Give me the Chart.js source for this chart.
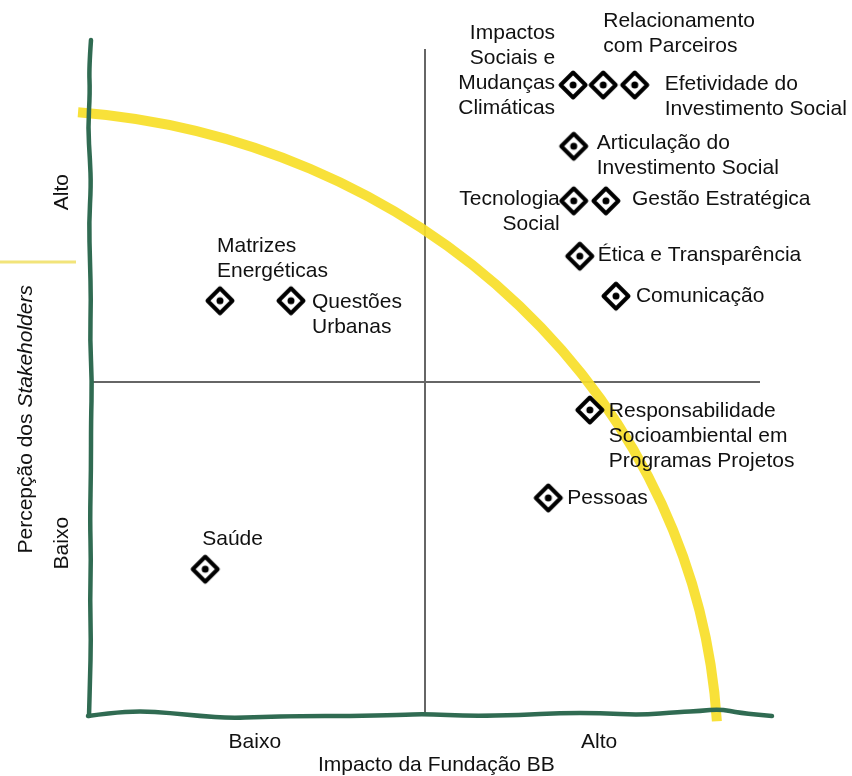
<!DOCTYPE html>
<html>
<head>
<meta charset="utf-8">
<script src="https://cdn.jsdelivr.net/npm/chart.js@4.4.1/dist/chart.umd.min.js"></script>
<style>
  body { margin: 0; background: #fff; }
  canvas { display: block; }
</style>
</head>
<body>
<canvas id="matrix" width="852" height="776"></canvas>
<script>
// temas da matriz de materialidade
const topics = [
  ['Impactos', 'Sociais e', 'Mudanças', 'Climáticas'],
  ['Relacionamento', 'com Parceiros'],
  ['Efetividade do', 'Investimento Social'],
  ['Articulação do', 'Investimento Social'],
  ['Tecnologia', 'Social'],
  ['Gestão Estratégica'],
  ['Ética e Transparência'],
  ['Comunicação'],
  ['Matrizes', 'Energéticas'],
  ['Questões', 'Urbanas'],
  ['Responsabilidade', 'Socioambiental em', 'Programas Projetos'],
  ['Pessoas'],
  ['Saúde']
];
// impacto da Fundação BB (eixo x, 0-10)
const impacto = [7.21, 7.66, 8.13, 7.22, 7.22, 7.70, 7.31, 7.85, 1.94, 3.00, 7.46, 6.84, 1.72];
// percepção dos stakeholders (eixo y, 0-10)
const percepcao = [9.46, 9.46, 9.46, 8.54, 7.72, 7.72, 6.89, 6.29, 6.22, 6.22, 4.58, 3.26, 2.19];

const xTicks = ['Baixo', 'Alto'];
const yTicks = ['Baixo', 'Alto'];
const xTitle = 'Impacto da Fundação BB';
const yTitle = ['Percepção dos ', 'Stakeholders'];

// where each label sits relative to its marker
const labelPlace = [
  { align: 'right', dx: -18, dy: -52 },
  { align: 'left', dx: 0, dy: -64 },
  { align: 'left', dx: 30, dy: -1 },
  { align: 'left', dx: 23, dy: -3 },
  { align: 'right', dx: -14, dy: -2 },
  { align: 'left', dx: 26, dy: -2 },
  { align: 'left', dx: 18, dy: -1 },
  { align: 'left', dx: 20, dy: 0 },
  { align: 'left', dx: -3, dy: -55 },
  { align: 'left', dx: 21, dy: 1 },
  { align: 'left', dx: 19, dy: 1 },
  { align: 'left', dx: 19, dy: 0 },
  { align: 'left', dx: -3, dy: -30 }
];

const FONT = '"Liberation Sans", Arial, Helvetica, sans-serif';
const SIZE = 21;
const GREEN = '#306b52';
const YELLOW = 'rgba(247, 222, 40, 0.92)';

// diamond marker with rounded corners and a dot
function makeMarker() {
  const c = document.createElement('canvas');
  c.width = 34; c.height = 34;
  const g = c.getContext('2d');
  const h = 12.5;
  g.beginPath();
  g.moveTo(17, 17 - h); g.lineTo(17 + h, 17); g.lineTo(17, 17 + h); g.lineTo(17 - h, 17);
  g.closePath();
  g.fillStyle = '#fff';
  g.fill();
  g.lineJoin = 'round';
  g.lineWidth = 4;
  g.strokeStyle = '#000';
  g.stroke();
  g.beginPath();
  g.arc(17, 17, 3.5, 0, Math.PI * 2);
  g.fillStyle = '#000';
  g.fill();
  return c;
}

function wobble(ctx, pts) {
  ctx.beginPath();
  ctx.moveTo(pts[0][0], pts[0][1]);
  for (let i = 1; i < pts.length - 1; i++) {
    const mx = (pts[i][0] + pts[i + 1][0]) / 2, my = (pts[i][1] + pts[i + 1][1]) / 2;
    ctx.quadraticCurveTo(pts[i][0], pts[i][1], mx, my);
  }
  const last = pts[pts.length - 1];
  ctx.lineTo(last[0], last[1]);
  ctx.stroke();
}

const backdrop = {
  id: 'backdrop',
  beforeDatasetsDraw(chart) {
    const { ctx, chartArea: a, scales: { x, y } } = chart;
    ctx.save();
    // quadrant dividers
    ctx.strokeStyle = '#666';
    ctx.lineWidth = 2;
    ctx.beginPath();
    ctx.moveTo(x.getPixelForValue(5), y.getPixelForValue(10));
    ctx.lineTo(x.getPixelForValue(5), y.getPixelForValue(0));
    ctx.moveTo(x.getPixelForValue(0), y.getPixelForValue(5));
    ctx.lineTo(x.getPixelForValue(10), y.getPixelForValue(5));
    ctx.stroke();

    // priority arc
    const cx = x.getPixelForValue(-1.045), cy = y.getPixelForValue(-0.676);
    const rx = x.getPixelForValue(10.42) - x.getPixelForValue(0);
    const ry = y.getPixelForValue(0) - y.getPixelForValue(9.76);
    ctx.strokeStyle = YELLOW;
    ctx.lineWidth = 10;
    ctx.lineCap = 'butt';
    ctx.beginPath();
    ctx.ellipse(cx, cy, rx, ry, 0, -Math.PI * 0.4735, -Math.PI * 0.019);
    ctx.stroke();

    // small yellow stroke at the left edge
    ctx.strokeStyle = '#f2e47a';
    ctx.lineWidth = 3;
    ctx.beginPath();
    ctx.moveTo(0, 262);
    ctx.lineTo(a.left - 14, 262);
    ctx.stroke();

    // hand drawn green axes
    ctx.strokeStyle = GREEN;
    ctx.lineWidth = 4.5;
    ctx.lineCap = 'round';
    ctx.lineJoin = 'round';
    const L = a.left, B = a.bottom;
    wobble(ctx, [[L + 1, 40], [L - 1, 68], [L, 92], [L - 2, 128], [L, 160], [L + 1, 186], [L - 1, 222],
      [L, 262], [L + 1, 300], [L, 340], [L + 2, 382], [L + 1, 420], [L + 1, 470], [L, 520],
      [L + 1, 560], [L, 600], [L + 1, 640], [L, 680], [L - 1, B + 1]]);
    wobble(ctx, [[L - 2, B + 1], [L + 20, B - 2], [L + 50, B - 4], [L + 80, B - 2], [L + 110, B + 1],
      [L + 140, B + 3], [L + 170, B + 2], [L + 210, B + 1], [L + 260, B + 1], [L + 310, B],
      [L + 335, B - 1], [L + 380, B + 1], [L + 430, B], [L + 470, B - 2], [L + 510, B - 2],
      [L + 550, B], [L + 590, B - 3], [L + 610, B - 4], [L + 630, B - 6], [L + 650, B - 2], [L + 682, B + 1]]);
    ctx.restore();
  },
  afterDatasetsDraw(chart) {
    const { ctx, scales: { x, y } } = chart;
    const font = SIZE + 'px ' + FONT;
    ctx.save();
    ctx.fillStyle = '#111';
    ctx.font = font;
    ctx.textBaseline = 'middle';
    // topic labels
    topics.forEach((lines, i) => {
      const p = labelPlace[i];
      const px = x.getPixelForValue(impacto[i]) + p.dx;
      const py = y.getPixelForValue(percepcao[i]) + p.dy;
      ctx.textAlign = p.align;
      lines.forEach((t, k) => ctx.fillText(t, px, py + k * 25));
    });

    // axis tick labels
    ctx.textAlign = 'center';
    ctx.fillText(xTicks[0], x.getPixelForValue(2.46), 742);
    ctx.fillText(xTicks[1], x.getPixelForValue(7.6), 742);
    ctx.fillText(xTitle, x.getPixelForValue(5.17), 765);
    [[yTicks[0], 2.58], [yTicks[1], 7.85]].forEach(([t, v]) => {
      ctx.save();
      ctx.translate(62, y.getPixelForValue(v));
      ctx.rotate(-Math.PI / 2);
      ctx.fillText(t, 0, 0);
      ctx.restore();
    });

    // y title, second part in italic
    ctx.save();
    ctx.translate(26, y.getPixelForValue(4.44));
    ctx.rotate(-Math.PI / 2);
    ctx.textAlign = 'left';
    const w1 = ctx.measureText(yTitle[0]).width;
    ctx.font = 'italic ' + font;
    const w2 = ctx.measureText(yTitle[1]).width;
    const start = -(w1 + w2) / 2;
    ctx.font = font;
    ctx.fillText(yTitle[0], start, 0);
    ctx.font = 'italic ' + font;
    ctx.fillText(yTitle[1], start + w1, 0);
    ctx.restore();
    ctx.restore();
  }
};

new Chart(document.getElementById('matrix').getContext('2d'), {
  type: 'scatter',
  data: {
    datasets: [{
      data: impacto.map((v, i) => ({ x: v, y: percepcao[i] })),
      pointStyle: makeMarker(),
      pointRadius: 15,
      pointHoverRadius: 15
    }]
  },
  options: {
    responsive: false,
    animation: false,
    events: [],
    layout: { padding: { left: 90, right: 92, top: 49, bottom: 61 } },
    scales: {
      x: { display: false, min: 0, max: 10 },
      y: { display: false, min: 0, max: 10 }
    },
    plugins: { legend: { display: false }, tooltip: { enabled: false } }
  },
  plugins: [backdrop]
});
</script>
</body>
</html>
